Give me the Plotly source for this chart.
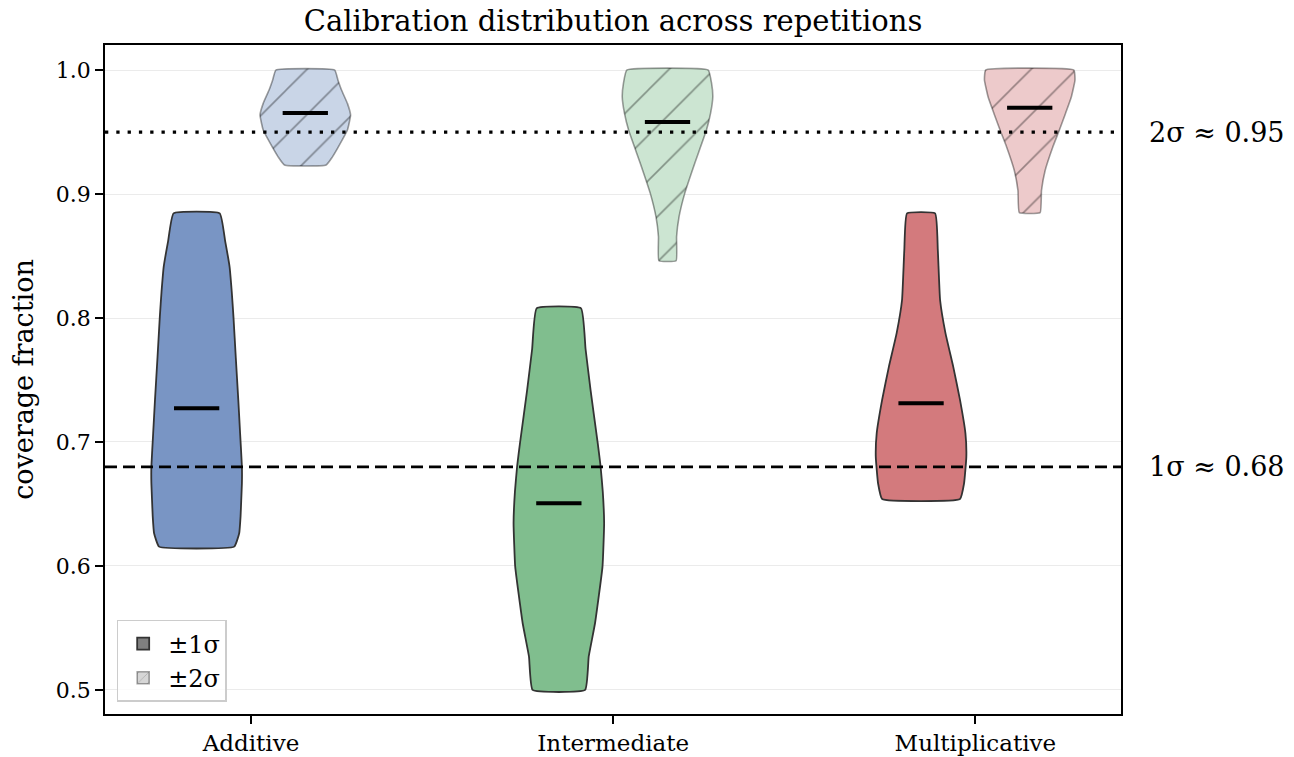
import plotly.graph_objects as go

# ---------------- data ----------------
categories = ["Additive", "Intermediate", "Multiplicative"]
cat_pos = [0, 1, 2]

# violin profiles: y levels and relative density (max = 1)
add_1s_y = [0.6156, 0.6264, 0.640, 0.653, 0.667, 0.680, 0.707, 0.734, 0.768, 0.8011, 0.8214, 0.8414, 0.862, 0.8844]
add_1s_d = [0.83, 0.94, 0.97, 0.985, 1.0, 1.0, 0.96, 0.92, 0.865, 0.813, 0.775, 0.727, 0.63, 0.51]
add_2s_y = [0.9234, 0.930, 0.938, 0.9516, 0.9637, 0.9731, 0.9839, 0.992, 1.0]
add_2s_d = [0.46, 0.60, 0.73, 0.93, 1.0, 0.93, 0.80, 0.72, 0.65]

int_1s_y = [0.500, 0.527, 0.554, 0.5995, 0.6344, 0.660, 0.681, 0.700, 0.742, 0.775, 0.8078]
int_1s_d = [0.58, 0.66, 0.80, 0.964, 1.0, 0.97, 0.92, 0.855, 0.70, 0.59, 0.49]
int_2s_y = [0.8462, 0.8656, 0.8817, 0.9005, 0.9247, 0.9516, 0.9650, 0.9785, 0.990, 1.0]
int_2s_d = [0.19, 0.20, 0.255, 0.38, 0.60, 0.86, 0.95, 1.0, 0.97, 0.90]

mul_1s_y = [0.654, 0.6667, 0.688, 0.707, 0.734, 0.7608, 0.7876, 0.8145, 0.8548, 0.8844]
mul_1s_d = [0.86, 0.95, 1.0, 0.98, 0.86, 0.71, 0.54, 0.42, 0.37, 0.31]
mul_2s_y = [0.885, 0.903, 0.919, 0.938, 0.9516, 0.965, 0.9785, 0.992, 1.0]
mul_2s_d = [0.23, 0.26, 0.34, 0.51, 0.655, 0.79, 0.92, 1.0, 0.975]

medians_1s = [0.7272, 0.6505, 0.7312]
medians_2s = [0.9653, 0.958, 0.9696]

ref_lines = [0.68, 0.95]
ref_labels = ["1σ ≈ 0.68", "2σ ≈ 0.95"]

y_ticks = [0.5, 0.6, 0.7, 0.8, 0.9, 1.0]

# ---------------- styling ----------------
base_colors = [(76, 114, 176), (85, 168, 104), (196, 78, 82)]
FONT = "DejaVu Serif"
OFFSET = 0.15
HALF_W = 0.125
MED_HALF = 0.0625


def blend(c, a):
    return "rgb(%d,%d,%d)" % tuple(round(a * v + (1 - a) * 255) for v in c)


profiles_1s = [(add_1s_y, add_1s_d), (int_1s_y, int_1s_d), (mul_1s_y, mul_1s_d)]
profiles_2s = [(add_2s_y, add_2s_d), (int_2s_y, int_2s_d), (mul_2s_y, mul_2s_d)]

fig = go.Figure()


def violin_trace(center, ys, ds, fill, line_color, line_width, pattern=None):
    xs = [center - HALF_W * d for d in ds] + [center + HALF_W * d for d in reversed(ds)]
    yy = list(ys) + list(reversed(ys))
    xs.append(xs[0])
    yy.append(yy[0])
    kw = dict(
        x=xs, y=yy, mode="lines", fill="toself", fillcolor=fill,
        line=dict(color=line_color, width=line_width, shape="spline", smoothing=0.35),
        showlegend=False, hoverinfo="skip",
    )
    if pattern:
        kw["fillpattern"] = pattern
    return go.Scatter(**kw)


for i, p in enumerate(cat_pos):
    ys, ds = profiles_1s[i]
    fig.add_trace(violin_trace(p - OFFSET, ys, ds, blend(base_colors[i], 0.75), "#333333", 1.8))
    ys, ds = profiles_2s[i]
    fig.add_trace(violin_trace(
        p + OFFSET, ys, ds, blend(base_colors[i], 0.3), "rgba(0,0,0,0.38)", 1.6,
        pattern=dict(shape="/", size=32, solidity=0.05, fgcolor="rgba(0,0,0,0.36)",
                     bgcolor=blend(base_colors[i], 0.3), fillmode="replace")))

# medians
for i, p in enumerate(cat_pos):
    for off, m in ((-OFFSET, medians_1s[i]), (OFFSET, medians_2s[i])):
        fig.add_trace(go.Scatter(x=[p + off - MED_HALF, p + off + MED_HALF], y=[m, m],
                                 mode="lines", line=dict(color="black", width=4),
                                 showlegend=False, hoverinfo="skip"))

# legend entries
fig.add_trace(go.Bar(x=[None], y=[None], name="±1σ",
                     marker=dict(color="rgb(128,128,128)", opacity=0.8,
                                 line=dict(color="#333333", width=1.8))))
fig.add_trace(go.Bar(x=[None], y=[None], name="±2σ",
                     marker=dict(color="rgb(214,214,214)",
                                 line=dict(color="rgba(0,0,0,0.35)", width=1.6),
                                 pattern=dict(shape="/", size=9, solidity=0.12,
                                              fgcolor="rgba(0,0,0,0.35)", fillmode="overlay"))))

# reference lines
fig.add_hline(y=ref_lines[0], line=dict(color="black", width=2.8, dash="12px,6px"))
fig.add_hline(y=ref_lines[1], line=dict(color="black", width=3.2, dash="3.3px,8px"))
for v, t in zip(ref_lines, ref_labels):
    fig.add_annotation(x=1, xref="paper", y=v, yref="y", text=t, showarrow=False,
                       xanchor="left", yanchor="middle", xshift=26,
                       font=dict(family=FONT, size=27, color="black"))

fig.update_layout(
    width=1294, height=757,
    margin=dict(l=105, r=173, t=45, b=43),
    paper_bgcolor="white", plot_bgcolor="white",
    font=dict(family=FONT, size=23, color="black"),
    title=dict(text="Calibration distribution across repetitions", x=0.5, xref="paper",
               y=1 - 21 / 757, yref="container", yanchor="middle", xanchor="center",
               font=dict(family=FONT, size=29, color="black")),
    legend=dict(x=0.0115, y=0.018, xanchor="left", yanchor="bottom",
                bgcolor="rgba(255,255,255,0.8)", bordercolor="#cccccc", borderwidth=1.5,
                font=dict(family=FONT, size=24), itemwidth=40),
    showlegend=True,
    barmode="overlay",
)
fig.update_xaxes(range=[-0.403, 2.402], tickvals=cat_pos, ticktext=categories,
                 showgrid=False, zeroline=False, showline=True, linecolor="black", linewidth=1.5,
                 mirror=True, ticks="outside", ticklen=8, tickwidth=1.5, tickcolor="black",
                 tickfont=dict(family=FONT, size=23), automargin=False)
fig.update_yaxes(range=[0.4806, 1.0202], tickvals=y_ticks, tickformat=".1f",
                 showgrid=True, gridcolor="#ebebeb", gridwidth=1, zeroline=False,
                 showline=True, linecolor="black", linewidth=1.5, mirror=True,
                 ticks="outside", ticklen=8, tickwidth=1.5, tickcolor="black",
                 tickfont=dict(family=FONT, size=22), automargin=False,
                 title=dict(text="coverage fraction", font=dict(family=FONT, size=27), standoff=14))

fig.write_html("out.html")
